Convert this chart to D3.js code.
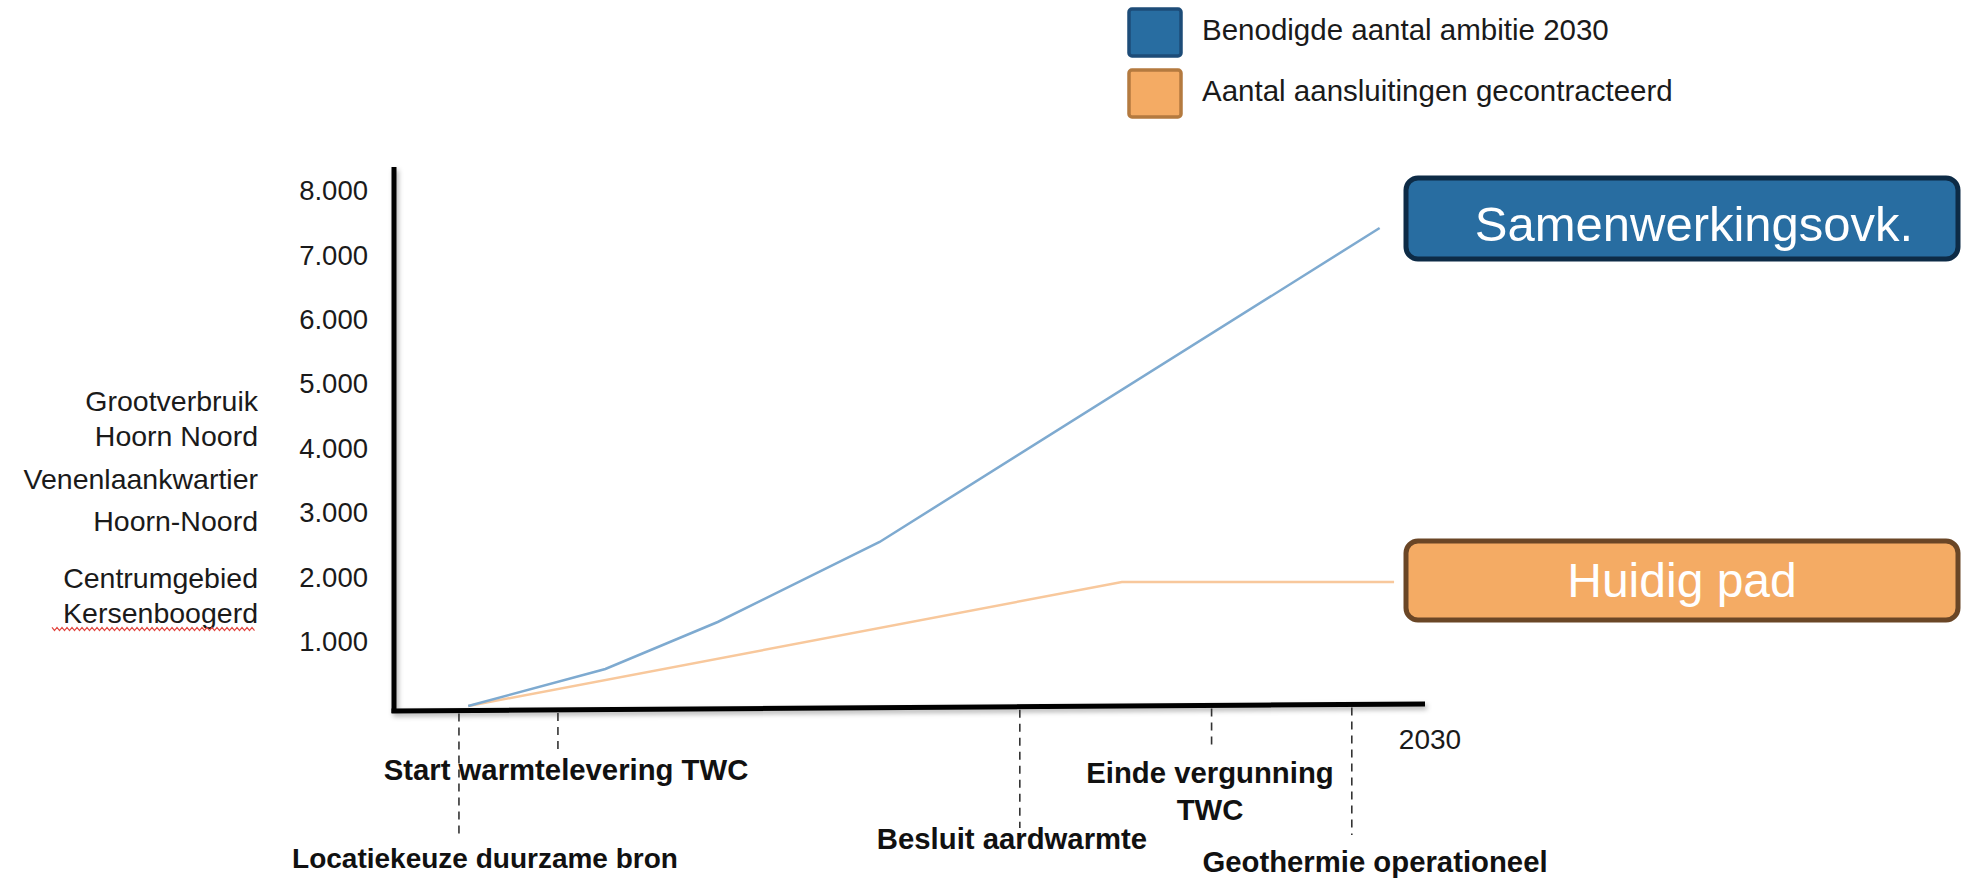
<!DOCTYPE html>
<html>
<head>
<meta charset="utf-8">
<script src="https://cdn.jsdelivr.net/npm/d3@7"></script>
<style>
  html, body { margin: 0; padding: 0; background: #fff; }
  svg { display: block; font-family: "Liberation Sans", Arial, Helvetica, sans-serif; }
</style>
</head>
<body>
<svg id="chart" width="1968" height="878"></svg>
<script>
// ---- data -------------------------------------------------------------
// Position on the timeline (0 = start of axis, 100 = 2030) and number of connections
const ambitieTime   = [7.2, 20.5, 31.4, 47.1, 95.6];
const ambitieValues = [0, 575, 1305, 2548, 7425];
const contractTime   = [7.2, 70.6, 97.0];
const contractValues = [0, 1926, 1926];

const yTickValues = [1000, 2000, 3000, 4000, 5000, 6000, 7000, 8000];
const endYearLabel = "2030";

const milestoneTime   = [6.3, 15.9, 60.7, 79.3, 92.9];
const milestoneLabels = [
  ["Locatiekeuze duurzame bron"],
  ["Start warmtelevering TWC"],
  ["Besluit aardwarmte"],
  ["Einde vergunning", "TWC"],
  ["Geothermie operationeel"]
];

const areaLabels   = ["Grootverbruik", "Hoorn Noord", "Venenlaankwartier", "Hoorn-Noord", "Centrumgebied", "Kersenboogerd"];
const seriesNames  = ["Benodigde aantal ambitie 2030", "Aantal aansluitingen gecontracteerd"];
const calloutTexts = ["Samenwerkingsovk.", "Huidig pad"];

// ---- layout -----------------------------------------------------------
const colors = {
  lineBlue: "#7eaad0", lineOrange: "#f8c89c",
  boxBlue: "#286da1", boxBlueStroke: "#0d2b46",
  boxOrange: "#f4ab64", boxOrangeStroke: "#6a4626",
  legBlueStroke: "#1d4c78", legOrangeStroke: "#b47a3f"
};
// label placement for the milestones
const milestoneLayout = [
  { x: 485,  y: 868, size: 28,   dashEnd: 838 },
  { x: 566,  y: 780, size: 29.3, dashEnd: 750 },
  { x: 1012, y: 849, size: 29.3, dashEnd: 828 },
  { x: 1210, y: 783, size: 29.3, dashEnd: 749 },
  { x: 1375, y: 872, size: 29.3, dashEnd: 835 }
];
const areaLabelBaselines = [411, 446, 489, 531, 588, 623];

const svg = d3.select("#chart");

const x = d3.scaleLinear().domain([0, 100]).range([394, 1425]);
const y = d3.scaleLinear().domain([0, 8000]).range([706, 191]);

const nl = d3.formatLocale({ decimal: ",", thousands: ".", grouping: [3], currency: ["€", ""] });
const fmt = nl.format(",d");

// soft shadow beneath the axis lines
const defs = svg.append("defs");
const f = defs.append("filter").attr("id", "axShadow")
  .attr("x", "-5%").attr("y", "-50%").attr("width", "110%").attr("height", "200%");
f.append("feDropShadow").attr("dx", 2).attr("dy", 3).attr("stdDeviation", 2.5)
  .attr("flood-color", "#000").attr("flood-opacity", 0.3);

// ---- data lines -------------------------------------------------------
const line = d3.line().x(d => x(d[0])).y(d => y(d[1]));

svg.append("path")
  .datum(contractTime.map((t, i) => [t, contractValues[i]]))
  .attr("d", line).attr("fill", "none")
  .attr("stroke", colors.lineOrange).attr("stroke-width", 2.5);

svg.append("path")
  .datum(ambitieTime.map((t, i) => [t, ambitieValues[i]]))
  .attr("d", line).attr("fill", "none")
  .attr("stroke", colors.lineBlue).attr("stroke-width", 2.5);

// ---- axes ------------------------------------------------------------
const yAxis = d3.axisLeft(y).tickValues(yTickValues).tickFormat(fmt).tickSize(0).tickPadding(26);
const gy = svg.append("g").attr("transform", `translate(${x(0)},0)`).call(yAxis);
gy.select(".domain").remove();
gy.selectAll("text").attr("font-size", 27.5).attr("fill", "#1a1a1a")
  .attr("font-family", "'Liberation Sans', Arial, sans-serif");

// axis lines (the horizontal one runs very slightly upward)
const axes = svg.append("g").attr("filter", "url(#axShadow)");
axes.append("line")
  .attr("x1", x(0)).attr("y1", y(8000) - 24)
  .attr("x2", x(0)).attr("y2", y(0) + 7)
  .attr("stroke", "#000").attr("stroke-width", 5);
axes.append("line")
  .attr("x1", x(0) - 2.5).attr("y1", y(0) + 5)
  .attr("x2", x(100)).attr("y2", y(0) - 2)
  .attr("stroke", "#000").attr("stroke-width", 5);

// end-year label
svg.append("text").attr("x", x(100) + 5).attr("y", 749)
  .attr("text-anchor", "middle").attr("font-size", 28).attr("fill", "#1a1a1a")
  .text(endYearLabel);

// ---- milestones --------------------------------------------------------
const axisY = t => (y(0) + 5) + (t / 100) * (-7);
const ms = svg.append("g");
milestoneTime.forEach((t, i) => {
  const L = milestoneLayout[i];
  ms.append("line")
    .attr("x1", x(t)).attr("x2", x(t))
    .attr("y1", axisY(t) + 3).attr("y2", L.dashEnd)
    .attr("stroke", "#333").attr("stroke-width", 1.6)
    .attr("stroke-dasharray", "8,6");
  const txt = ms.append("text")
    .attr("x", L.x).attr("y", L.y).attr("text-anchor", "middle")
    .attr("font-size", L.size).attr("font-weight", "bold").attr("fill", "#111");
  milestoneLabels[i].forEach((s, j) => {
    txt.append("tspan").attr("x", L.x).attr("dy", j === 0 ? 0 : 37).text(s);
  });
});

// ---- area labels left of the axis ---------------------------------------
const al = svg.append("g");
areaLabels.forEach((s, i) => {
  al.append("text").attr("x", 258).attr("y", areaLabelBaselines[i])
    .attr("text-anchor", "end").attr("font-size", 28.5).attr("fill", "#1a1a1a").text(s);
});
// red spell-check squiggle under the last label
(function () {
  const x0 = 52, x1 = 255, yy = 629, step = 2.5;
  const pts = [];
  for (let k = 0, xx = x0; xx <= x1; k++, xx += step) pts.push([xx, yy + (k % 2 ? 1.6 : -1.6)]);
  svg.append("path").attr("d", d3.line()(pts)).attr("fill", "none")
    .attr("stroke", "#e2463f").attr("stroke-width", 1.2);
})();

// ---- legend -------------------------------------------------------------
const legend = svg.append("g");
const legFill = [colors.boxBlue, colors.boxOrange];
const legStroke = [colors.legBlueStroke, colors.legOrangeStroke];
seriesNames.forEach((s, i) => {
  const top = 9 + i * 61;
  legend.append("rect").attr("x", 1129).attr("y", top).attr("width", 52).attr("height", 47)
    .attr("rx", 3).attr("fill", legFill[i]).attr("stroke", legStroke[i]).attr("stroke-width", 3.5);
  legend.append("text").attr("x", 1202).attr("y", top + 31)
    .attr("font-size", 29.5).attr("fill", "#1a1a1a").text(s);
});

// ---- callout boxes -------------------------------------------------------
const callouts = [
  { fill: colors.boxBlue, stroke: colors.boxBlueStroke, top: 178, h: 81, base: 241, cx: 1694, size: 49 },
  { fill: colors.boxOrange, stroke: colors.boxOrangeStroke, top: 541, h: 79, base: 597, cx: 1682, size: 48 }
];
callouts.forEach((c, i) => {
  svg.append("rect").attr("x", 1406).attr("y", c.top).attr("width", 552).attr("height", c.h)
    .attr("rx", 12).attr("fill", c.fill).attr("stroke", c.stroke).attr("stroke-width", 5);
  svg.append("text").attr("x", c.cx).attr("y", c.base).attr("text-anchor", "middle")
    .attr("font-size", c.size).attr("fill", "#fff").text(calloutTexts[i]);
});
</script>
</body>
</html>
